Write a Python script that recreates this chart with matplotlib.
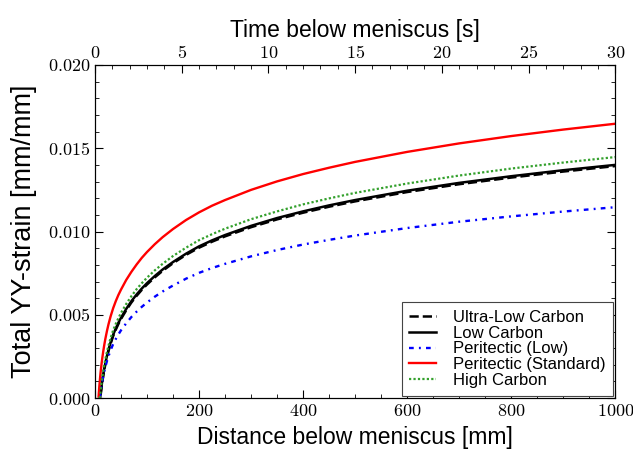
import numpy as np
import matplotlib
matplotlib.use('Agg')
import matplotlib.pyplot as plt
from matplotlib.ticker import MultipleLocator, FuncFormatter

plt.rcParams['mathtext.fontset'] = 'cm'
plt.rcParams['font.family'] = 'Liberation Sans'

# distance below meniscus [mm]
distance = [7, 8, 9, 10, 11, 12, 13, 14, 16, 18, 20, 23, 26, 30, 35, 40, 45, 50, 60, 70,
            80, 90, 100, 115, 130, 150, 175, 200, 225, 250, 300, 350, 400, 450, 500,
            600, 700, 800, 900, 1000]

# total YY-strain, in units of 1e-3 mm/mm (nan = not started yet)
nan = np.nan
ultra_low = [nan, nan, nan, nan, 0.20, 0.47, 0.72, 0.94, 1.35, 1.71, 2.03, 2.45, 2.82, 3.26,
             3.73, 4.11, 4.45, 4.75, 5.27, 5.74, 6.14, 6.50, 6.82, 7.25, 7.64, 8.10, 8.60,
             9.03, 9.39, 9.71, 10.26, 10.73, 11.13, 11.49, 11.81, 12.37, 12.84, 13.24,
             13.60, 13.93]
low_carbon = [nan, nan, nan, 0.0, 0.29, 0.55, 0.80, 1.02, 1.43, 1.79, 2.11, 2.53, 2.90, 3.34,
              3.81, 4.18, 4.52, 4.82, 5.35, 5.82, 6.22, 6.58, 6.90, 7.33, 7.72, 8.17, 8.67,
              9.11, 9.47, 9.79, 10.34, 10.81, 11.21, 11.57, 11.89, 12.45, 12.92, 13.32,
              13.68, 14.00]
peri_low = [nan, nan, 0.0, 0.18, 0.41, 0.62, 0.82, 1.00, 1.33, 1.62, 1.88, 2.22, 2.52, 2.87,
            3.25, 3.55, 3.82, 4.07, 4.49, 4.87, 5.19, 5.48, 5.74, 6.09, 6.40, 6.76, 7.17,
            7.52, 7.81, 8.06, 8.51, 8.89, 9.22, 9.50, 9.76, 10.21, 10.59, 10.91, 11.20,
            11.46]
peri_std = [0.10, 0.54, 0.92, 1.27, 1.59, 1.87, 2.14, 2.38, 2.82, 3.21, 3.56, 4.02, 4.43, 4.90,
            5.40, 5.82, 6.19, 6.51, 7.09, 7.58, 8.02, 8.42, 8.77, 9.24, 9.66, 10.15, 10.69,
            11.15, 11.55, 11.89, 12.50, 13.01, 13.45, 13.83, 14.18, 14.78, 15.29, 15.73,
            16.12, 16.47]
high_carbon = [nan, nan, 0.0, 0.19, 0.49, 0.76, 1.01, 1.24, 1.65, 2.01, 2.34, 2.77, 3.15, 3.60,
               4.08, 4.46, 4.80, 5.11, 5.65, 6.12, 6.54, 6.90, 7.23, 7.67, 8.06, 8.53, 9.03,
               9.48, 9.84, 10.17, 10.74, 11.21, 11.63, 11.99, 12.32, 12.88, 13.36, 13.78,
               14.14, 14.47]

x = np.array(distance)
fig = plt.figure(figsize=(6.33, 4.54), dpi=100)
ax = fig.add_axes([0.150, 0.123, 0.822, 0.734])

ax.plot(x, np.array(ultra_low) * 1e-3, color='black', ls='--', lw=1.8, label='Ultra-Low Carbon')
ax.plot(x, np.array(low_carbon) * 1e-3, color='black', ls='-', lw=1.8, label='Low Carbon')
ax.plot(x, np.array(peri_low) * 1e-3, color='#0000ff', ls=(0, (2, 2.2, 0.8, 2.2)), lw=1.7,
        label='Peritectic (Low)')
ax.plot(x, np.array(peri_std) * 1e-3, color='#ff0000', ls='-', lw=1.7, label='Peritectic (Standard)')
ax.plot(x, np.array(high_carbon) * 1e-3, color='#33a02c', ls=(0, (1, 1)), lw=1.6, label='High Carbon')

ax.set_xlim(0, 1000)
ax.set_ylim(0, 0.020)
ax.xaxis.set_major_locator(MultipleLocator(200))
ax.xaxis.set_minor_locator(MultipleLocator(50))
ax.yaxis.set_major_locator(MultipleLocator(0.005))
ax.yaxis.set_minor_locator(MultipleLocator(0.001))
ax.xaxis.set_major_formatter(FuncFormatter(lambda v, p: r'$%d$' % v))
ax.yaxis.set_major_formatter(FuncFormatter(lambda v, p: r'$%.3f$' % v))
ax.tick_params(which='both', direction='in', right=True, top=False, labelsize=13)
ax.tick_params(which='major', length=6)
ax.tick_params(which='minor', length=3)

ax.set_xlabel('Distance below meniscus [mm]', fontsize=16.5)
ax.set_ylabel('Total YY-strain [mm/mm]', fontsize=19.5, labelpad=8)

# top axis: time below meniscus
ax2 = ax.twiny()
ax2.set_xlim(0, 30)
ax2.xaxis.set_major_locator(MultipleLocator(5))
ax2.xaxis.set_minor_locator(MultipleLocator(1))
ax2.xaxis.set_major_formatter(FuncFormatter(lambda v, p: r'$%d$' % v))
ax2.tick_params(which='both', direction='in', labelsize=13)
ax2.tick_params(which='major', length=6, pad=2)
ax2.tick_params(which='minor', length=3)
ax2.set_xlabel('Time below meniscus [s]', fontsize=16.5, labelpad=6)

leg = ax.legend(loc='lower right', fontsize=12, fancybox=False, framealpha=1,
                edgecolor='#444444', borderaxespad=0.15, handlelength=1.6,
                handletextpad=1.0, labelspacing=0.05, borderpad=0.45)
leg.get_frame().set_linewidth(0.8)

plt.savefig('out.png', dpi=100)
